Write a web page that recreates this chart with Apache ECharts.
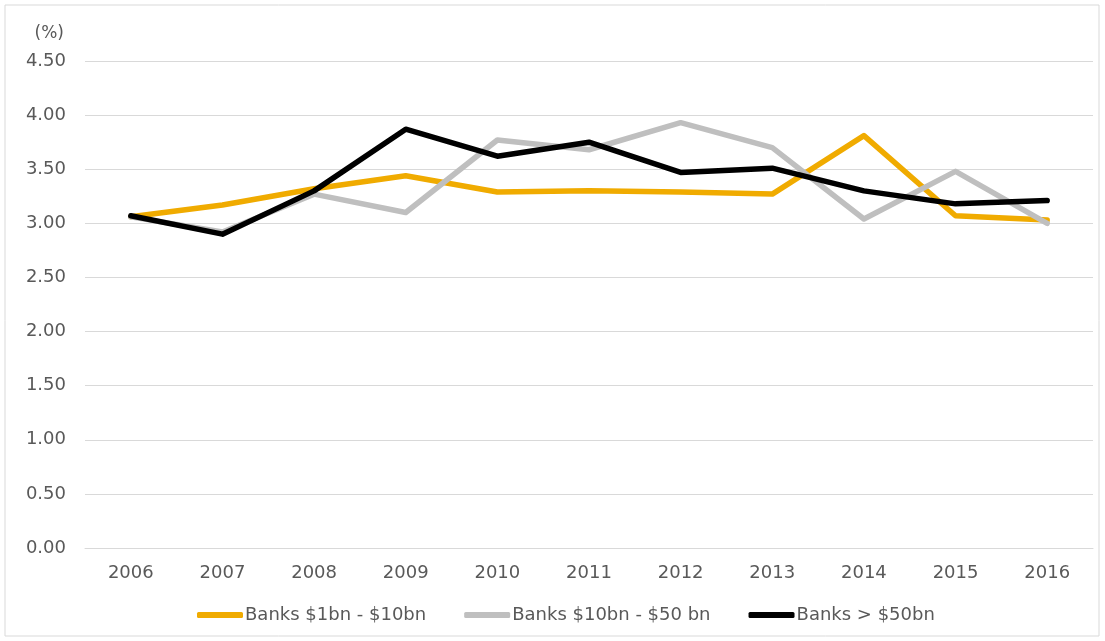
<!DOCTYPE html>
<html>
<head>
<meta charset="utf-8">
<script src="https://cdn.jsdelivr.net/npm/echarts@6/dist/echarts.min.js"></script>
<style>
  html, body { margin: 0; padding: 0; background: #fff; }
  #chart { width: 1105px; height: 641px; }
</style>
</head>
<body>
<div id="chart"></div>
<script>
// years on the x axis
var years = ['2006', '2007', '2008', '2009', '2010', '2011', '2012', '2013', '2014', '2015', '2016']

// values in percent
var banks1to10 = [3.06, 3.17, 3.32, 3.44, 3.29, 3.30, 3.29, 3.27, 3.81, 3.07, 3.03]
var banks10to50 = [3.06, 2.92, 3.27, 3.10, 3.77, 3.68, 3.93, 3.70, 3.04, 3.48, 3.00]
var banksOver50 = [3.07, 2.90, 3.30, 3.87, 3.62, 3.75, 3.47, 3.51, 3.30, 3.18, 3.21]

var seriesNames = ['Banks $1bn - $10bn', 'Banks $10bn - $50 bn', 'Banks > $50bn']
var seriesColors = ['#F0AB00', '#BFBFBF', '#000000']

var chart = echarts.init(document.getElementById('chart'))

function lineSeries(name, color, data) {
  return {
    name: name,
    type: 'line',
    data: data,
    color: color,
    symbol: 'none',
    lineStyle: { width: 5.5, color: color, cap: 'round', join: 'round' }
  }
}

chart.setOption({
  animation: false,
  graphic: [
    {
      type: 'rect',
      shape: { x: 5, y: 5, width: 1094, height: 631 },
      style: { fill: 'none', stroke: '#d9d9d9', lineWidth: 1 }
    }
  ],
  grid: {
    left: 85,
    right: 12,
    top: 61,
    bottom: 93
  },
  legend: {
    top: 601,
    left: 192,
    icon: 'roundRect',
    itemWidth: 46,
    itemHeight: 6,
    itemGap: 38,
    data: seriesNames,
    textStyle: {
      fontFamily: 'DejaVu Sans',
      fontSize: 18,
      color: '#595959',
      padding: [0, 0, 0, -3]
    }
  },
  xAxis: {
    type: 'category',
    data: years,
    boundaryGap: true,
    axisTick: { show: false },
    axisLine: { show: true, lineStyle: { color: '#d9d9d9', width: 1 } },
    axisLabel: {
      color: '#595959',
      fontFamily: 'DejaVu Sans',
      fontSize: 18,
      margin: 16
    },
    splitLine: { show: false }
  },
  yAxis: {
    type: 'value',
    min: 0,
    max: 4.5,
    interval: 0.5,
    name: '(%)',
    nameGap: 19,
    nameTextStyle: {
      align: 'right',
      color: '#595959',
      fontFamily: 'DejaVu Sans',
      fontSize: 17,
      padding: [0, 21, 0, 0]
    },
    axisLine: { show: false },
    axisTick: { show: false },
    axisLabel: {
      color: '#595959',
      fontFamily: 'DejaVu Sans',
      fontSize: 18,
      margin: 19,
      formatter: function (v) { return v.toFixed(2) }
    },
    splitLine: { show: true, lineStyle: { color: '#d9d9d9', width: 1 } }
  },
  series: [
    lineSeries(seriesNames[0], seriesColors[0], banks1to10),
    lineSeries(seriesNames[1], seriesColors[1], banks10to50),
    lineSeries(seriesNames[2], seriesColors[2], banksOver50)
  ]
})
</script>
</body>
</html>
